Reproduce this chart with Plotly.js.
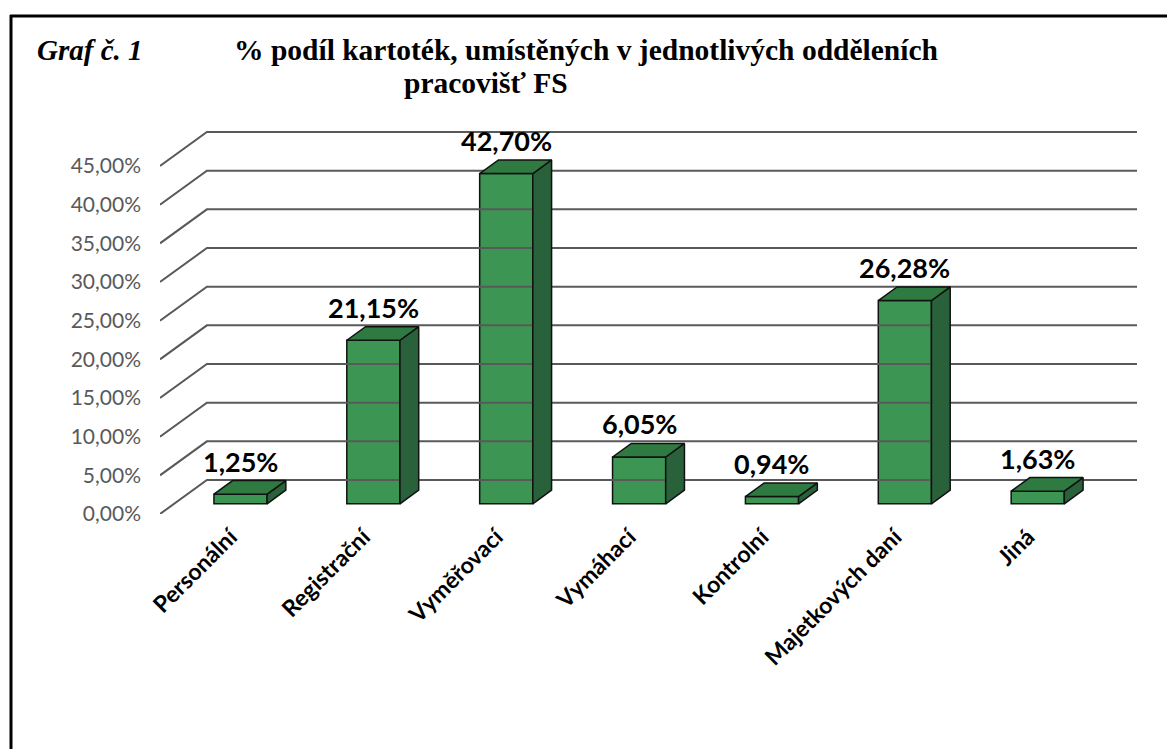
<!DOCTYPE html>
<html>
<head>
<meta charset="utf-8">
<script src="https://cdn.plot.ly/plotly-3.0.1.min.js"></script>
<style>
html,body{margin:0;padding:0;background:#fff;}
#chart{width:1167px;height:749px;}
</style>
</head>
<body>
<div id="chart"></div>
<script>
// ---- data ----
const categories = ['Personální','Registrační','Vyměřovací','Vymáhací','Kontrolní','Majetkových daní','Jiná'];
const values = [1.25, 21.15, 42.70, 6.05, 0.94, 26.28, 1.63];
const yTickValues = [0, 5, 10, 15, 20, 25, 30, 35, 40, 45];
const yTickLabels = ['0,00%','5,00%','10,00%','15,00%','20,00%','25,00%','30,00%','35,00%','40,00%','45,00%'];
const valueLabels = ['1,25%','21,15%','42,70%','6,05%','0,94%','26,28%','1,63%'];
const titleTag = 'Graf č. 1';
const titleLine1 = '% podíl kartoték, umístěných v jednotlivých odděleních';
const titleLine2 = 'pracovišť FS';

// ---- pseudo-3D projection settings ----
const DX = 0.353;   // x shift (category units) for full depth
const DY = 4.397;   // y shift (% units) for full depth
const F = 0.3, B = 0.7; // bar front/back depth
const HW = 0.2;     // bar half width
const XL = -0.5, XR = categories.length - 0.5;

// layout pixel geometry
const W = 1167, H = 749;
const ML = 160, MR = 30, MT = 124, MB = 235;
const PW = W - ML - MR, PH = H - MT - MB;
const px2x = p => (p - ML) / PW;
const px2y = p => (H - MB - p) / PH;

const idx = categories.map((_, i) => i);

// grid (back wall + left wall diagonals)
const gx = [], gy = [];
yTickValues.forEach(t => {
  gx.push(XL, XL + DX, XR + DX, null);
  gy.push(t, t + DY, t + DY, null);
});

// top and side faces
const tx = [], ty = [], sx = [], sy = [];
idx.forEach(i => {
  const v = values[i];
  tx.push(i - HW + F*DX, i + HW + F*DX, i + HW + B*DX, i - HW + B*DX, i - HW + F*DX, null);
  ty.push(v + F*DY, v + F*DY, v + B*DY, v + B*DY, v + F*DY, null);
  sx.push(i + HW + F*DX, i + HW + B*DX, i + HW + B*DX, i + HW + F*DX, i + HW + F*DX, null);
  sy.push(F*DY, B*DY, v + B*DY, v + F*DY, F*DY, null);
});

const traces = [
  {type:'scatter', mode:'lines', x:gx, y:gy, line:{color:'#595959', width:2}, hoverinfo:'skip', showlegend:false, connectgaps:false},
  {type:'bar', x: idx.map(i => i + F*DX), y: values, base: idx.map(() => F*DY), width: 2*HW,
   marker:{color:'#3C9553', line:{color:'#111', width:1.5}}, hoverinfo:'skip', showlegend:false},
  {type:'scatter', mode:'lines', x:sx, y:sy, fill:'toself', fillcolor:'#28613A',
   line:{color:'#111', width:1.5}, hoverinfo:'skip', showlegend:false, connectgaps:false},
  {type:'scatter', mode:'lines', x:tx, y:ty, fill:'toself', fillcolor:'#2F7A40',
   line:{color:'#111', width:1.5}, hoverinfo:'skip', showlegend:false, connectgaps:false}
];

const annotations = idx.map(i => ({
  x: i + F*DX, y: values[i] + B*DY, xref:'x', yref:'y',
  text: valueLabels[i], showarrow:false, yanchor:'bottom', yshift: 1,
  font:{family:'Lato, sans-serif', size:27, color:'#000', weight:'bold'}
}));
annotations.push(
  {xref:'paper', yref:'paper', x:px2x(35), y:px2y(50), xanchor:'left', yanchor:'middle', showarrow:false,
   text:'<b><i>' + titleTag + '</i></b>', font:{family:'Liberation Serif, serif', size:29, color:'#000'}},
  {xref:'paper', yref:'paper', x:px2x(232), y:px2y(50), xanchor:'left', yanchor:'middle', showarrow:false,
   text:'<b>' + titleLine1 + '</b>', font:{family:'Liberation Serif, serif', size:29.5, color:'#000'}},
  {xref:'paper', yref:'paper', x:px2x(402), y:px2y(83), xanchor:'left', yanchor:'middle', showarrow:false,
   text:'<b>' + titleLine2 + '</b>', font:{family:'Liberation Serif, serif', size:29.5, color:'#000'}}
);

const layout = {
  width: W, height: H,
  margin:{l:ML, r:MR, t:MT, b:MB, pad:0},
  paper_bgcolor:'#fff', plot_bgcolor:'rgba(0,0,0,0)',
  showlegend:false,
  barmode:'overlay',
  xaxis:{range:[XL, XR + DX], showgrid:false, zeroline:false, showline:false,
    tickmode:'array', tickvals: idx.map(i => i + F*DX - 0.075), ticktext: categories,
    tickangle:-45, ticks:'', ticklabelstandoff: 4,
    tickfont:{family:'Lato, sans-serif', size:23, color:'#000', weight:'bold'}, fixedrange:true},
  yaxis:{range:[0, PH/ (348/45)], showgrid:false, zeroline:false, showline:false,
    tickmode:'array', tickvals: yTickValues, ticktext: yTickLabels, ticks:'',
    ticklabelstandoff: 18,
    tickfont:{family:'Lato, sans-serif', size:21, color:'#595959'}, fixedrange:true},
  annotations: annotations,
  shapes:[
    {type:'line', xref:'paper', yref:'paper', x0:px2x(10), x1:px2x(1175), y0:px2y(16), y1:px2y(16), line:{color:'#000', width:3}},
    {type:'line', xref:'paper', yref:'paper', x0:px2x(11), x1:px2x(11), y0:px2y(15), y1:px2y(760), line:{color:'#000', width:3}}
  ]
};

Plotly.newPlot('chart', traces, layout, {displayModeBar:false, staticPlot:true});
</script>
</body>
</html>
